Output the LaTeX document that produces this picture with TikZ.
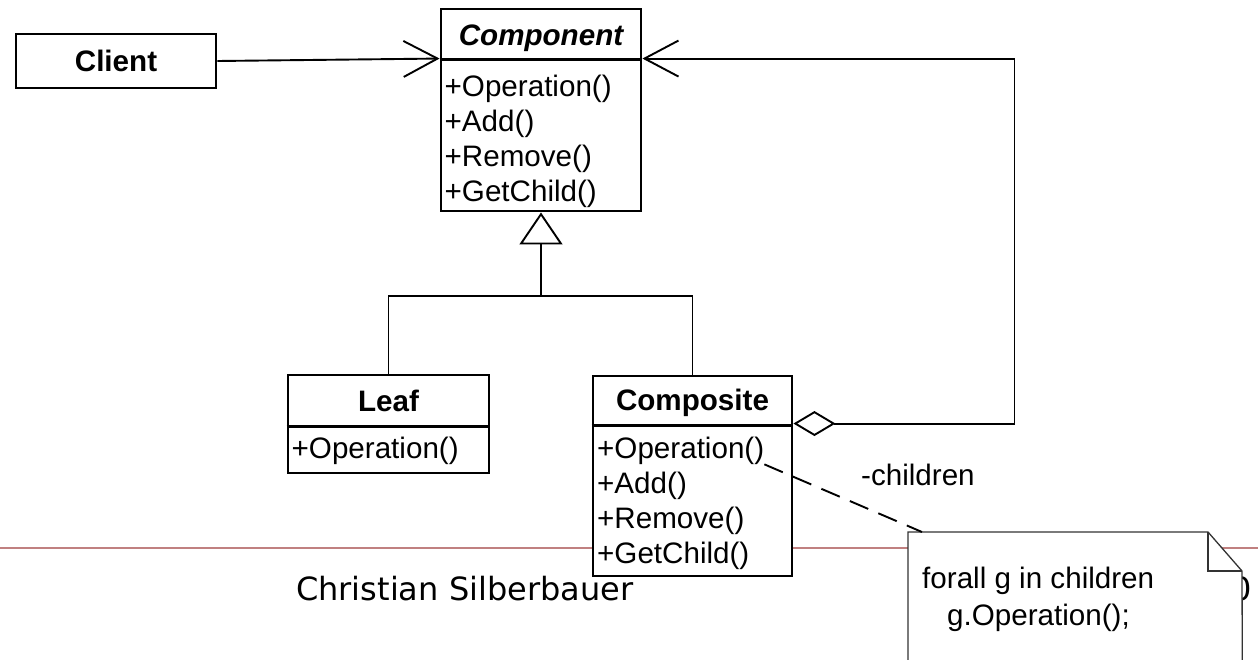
\documentclass[tikz,border=0pt]{standalone}
\usepackage{fontspec}
\setmainfont{Liberation Sans}
\newfontfamily\footerfont{DejaVu Sans}
\usetikzlibrary{arrows.meta,calc}

\definecolor{rule}{RGB}{192,128,128}

\begin{document}
\begin{tikzpicture}[x=1pt,y=-1pt,
  classbox/.style={draw=black, line width=2.9pt, fill=white, inner sep=0pt},
  classline/.style={line width=2.9pt},
  conn/.style={line width=1.9pt},
  uml/.style={inner sep=0pt, font=\fontsize{29.6}{29.6}\selectfont},
  member/.style={uml, anchor=base west},
  title/.style={uml, anchor=base, font=\fontsize{29.6}{29.6}\selectfont\bfseries},
  notestyle/.style={draw=black!80, line width=1.3pt},
  barb/.style={-{Straight Barb[length=34pt,width=36pt]}},
]
\useasboundingbox (0,0) rectangle (1258,659);
\clip (0,0) rectangle (1258,659);

% slide footer: rule, author, page number
\draw[rule, line width=1.8pt] (0,548) -- (1258,548);
\node[anchor=base west, inner sep=0pt, font=\footerfont\fontsize{32}{32}\selectfont] (author) at (296,600) {Christian Silberbauer};
\node[anchor=base east, inner sep=0pt, font=\footerfont\fontsize{32}{32}\selectfont] (pagenum) at (1252,600) {0};

% class boxes
\node[classbox, minimum width=200pt, minimum height=202pt] (component) at (541,110) {};
\node[classbox, minimum width=200pt, minimum height=54pt] (client) at (116,61) {};
\node[classbox, minimum width=201pt, minimum height=98pt] (leaf) at (388.5,424) {};
\node[classbox, minimum width=199pt, minimum height=200pt] (composite) at (692.5,476) {};

% header separators
\draw[classline] ($(component.north west)+(0,52)$) -- ($(component.north east)+(0,52)$);
\draw[classline] ($(leaf.north west)+(0,53)$) -- ($(leaf.north east)+(0,53)$);
\draw[classline] ($(composite.north west)+(0,51)$) -- ($(composite.north east)+(0,51)$);

% class names
\node[title] (clientName) at (116,71) {Client};
\node[title, font=\fontsize{29.6}{29.6}\selectfont\bfseries\itshape] (componentName) at (541,45) {Component};
\node[title] (leafName) at (388.5,411) {Leaf};
\node[title] (compositeName) at (692.5,410) {Composite};

% operations
\node[member] (c1) at (444.5,96.5) {+Operation()};
\node[member] (c2) at (444.5,131.5) {+Add()};
\node[member] (c3) at (444.5,166.5) {+Remove()};
\node[member] (c4) at (444.5,201) {+GetChild()};
\node[member] (l1) at (291.5,458) {+Operation()};
\node[member] (cop1) at (597,458) {+Operation()};
\node[member] (cop2) at (597,493) {+Add()};
\node[member] (cop3) at (597,528) {+Remove()};
\node[member] (cop4) at (597,563) {+GetChild()};

% attachment points on the Component box
\coordinate (compL) at ($(component.north west)+(0,51)$);
\coordinate (compR) at ($(component.north east)+(0,51)$);
\coordinate (aggR) at ($(composite.north east)+(0,49)$);

% association Client -> Component
\draw[conn, barb] (client.east) -- (compL);

% generalization
\coordinate (hub) at (541,296);
\draw[conn] (leaf.north) |- (hub) -| (composite.north);
\draw[conn, -{Triangle[open,length=32pt,width=43pt]}] (hub) -- (component.south);

% aggregation Composite -> Component
\draw[conn, {Diamond[open,length=42pt,width=25pt]}-{Straight Barb[length=34pt,width=36pt]}]
  (aggR) -- ++(221,0) |- (compR);
\node[member] (childrenLabel) at (861,485) {-children};

% note
\node[inner sep=0pt, minimum width=334pt, minimum height=170pt, anchor=north west] (note) at (908,532) {};
\draw[notestyle, fill=white] (note.north west) -- ++(300,0) -- ++(34,39) -- (note.south east) -- (note.south west) -- cycle;
\draw[notestyle] ($(note.north west)+(300,0)$) -- ++(0,39) -- ++(34,0);
\node[member] (noteLine1) at (922,588) {forall g in children};
\node[member] (noteLine2) at (947,625) {g.Operation();};
\draw[conn, dash pattern=on 20pt off 11pt] (cop1.south east) -- ($(note.north west)+(14,0)$);
\end{tikzpicture}
\end{document}
